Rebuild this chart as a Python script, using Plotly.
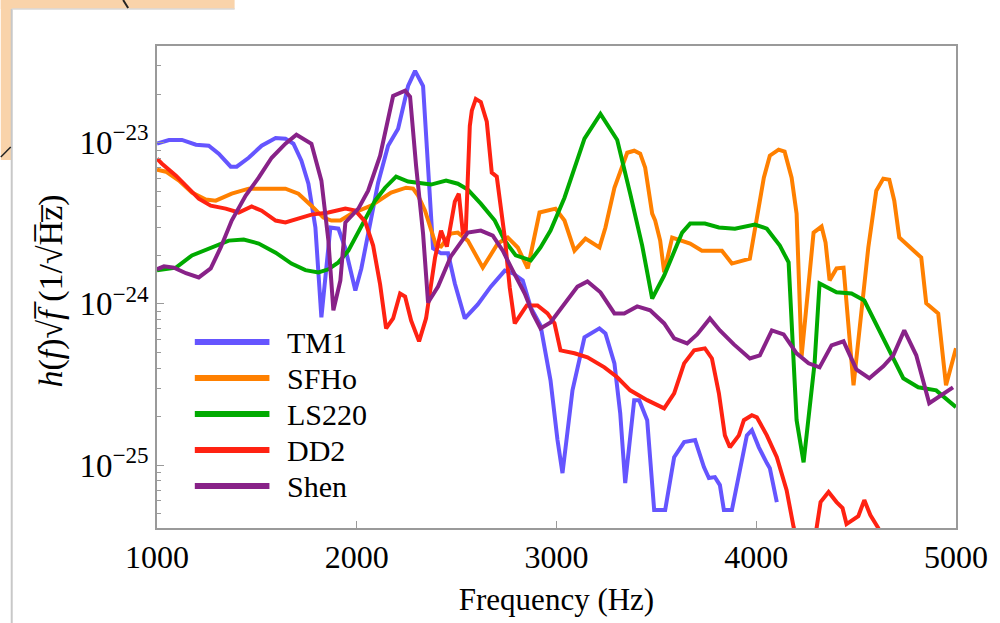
import plotly.graph_objects as go

# Strain spectra h(f)*sqrt(f) for five equations of state.
# Amplitudes are in units of 1e-24 (1/sqrt(Hz)).
SCALE = 1e-24

tm1_f = [1000, 1060, 1125, 1195, 1259, 1309, 1369, 1399, 1459, 1524, 1594, 1643, 1683, 1723,
         1758, 1793, 1823, 1868, 1908, 1943, 1993, 2023, 2072, 2107, 2157, 2207, 2257, 2292,
         2332, 2357, 2382, 2422, 2457, 2491, 2541, 2606, 2671, 2741, 2781, 2831, 2871, 2920,
         2970, 3005, 3030, 3080, 3140, 3215, 3245, 3290, 3319, 3344, 3389, 3414, 3454, 3489,
         3544, 3589, 3639, 3694, 3738, 3763, 3793, 3818, 3838, 3878, 3913, 3953, 3978, 4013,
         4053, 4068, 4103]
tm1_h = [9.86, 10.4, 10.4, 9.72, 9.58, 8.55, 7.1, 7.1, 8.07, 9.58, 10.7, 10.6, 9.86, 7.74,
         5.57, 2.98, 0.825, 2.98, 2.93, 2.21, 1.21, 1.66, 3.38, 5.65, 9.58, 12.2, 22.5, 27.9,
         22.5, 7.2, 2.21, 2.06, 2.06, 1.34, 0.813, 0.993, 1.28, 1.61, 1.55, 1.40, 0.951, 0.736,
         0.336, 0.143, 0.0892, 0.291, 0.620, 0.705, 0.657, 0.428, 0.210, 0.0774, 0.253, 0.253,
         0.190, 0.0526, 0.0526, 0.112, 0.139, 0.143, 0.0972, 0.0831, 0.0843, 0.0752, 0.0526,
         0.0526, 0.0892, 0.153, 0.165, 0.129, 0.103, 0.0958, 0.059]

sfho_f = [1000, 1045, 1110, 1175, 1244, 1294, 1374, 1459, 1643, 1708, 1773, 1833, 1873, 1918,
          1973, 2072, 2172, 2247, 2282, 2307, 2342, 2372, 2397, 2422, 2471, 2506, 2556, 2631,
          2706, 2756, 2806, 2856, 2915, 2995, 3040, 3090, 3145, 3215, 3245, 3290, 3354, 3389,
          3419, 3444, 3479, 3494, 3519, 3539, 3579, 3669, 3728, 3828, 3878, 3968, 4038, 4068,
          4112, 4142, 4177, 4202, 4227, 4287, 4327, 4347, 4367, 4402, 4437, 4487, 4561, 4601,
          4636, 4666, 4691, 4716, 4826, 4851, 4911, 4950, 5000]
sfho_h = [6.81, 6.61, 5.82, 4.90, 4.44, 4.37, 4.83, 5.19, 5.19, 4.83, 4.07, 3.43, 3.29, 3.29,
          3.63, 4.07, 4.90, 5.26, 5.19, 4.70, 3.79, 2.93, 2.30, 2.27, 2.73, 2.77, 2.47, 1.68,
          2.37, 2.58, 2.24, 1.66, 3.69, 3.90, 3.29, 2.14, 2.54, 2.24, 2.98, 5.26, 8.67, 8.92,
          8.55, 7.00, 3.63, 3.29, 2.47, 1.57, 2.58, 2.37, 2.14, 2.14, 1.78, 1.91, 6.07, 8.31,
          9.05, 8.80, 6.07, 3.63, 0.473, 2.77, 3.02, 2.40, 1.40, 1.66, 1.68, 0.313, 2.24, 5.04,
          5.99, 5.90, 4.37, 2.58, 1.94, 1.01, 0.873, 0.313, 0.530]

ls220_f = [1000, 1095, 1175, 1294, 1359, 1434, 1509, 1594, 1673, 1743, 1808, 1858, 1908, 1958,
           2023, 2092, 2142, 2197, 2257, 2322, 2372, 2447, 2506, 2556, 2621, 2691, 2741, 2796,
           2871, 2920, 2970, 3040, 3090, 3140, 3220, 3304, 3369, 3429, 3479, 3539, 3629, 3669,
           3743, 3813, 3893, 3993, 4053, 4118, 4162, 4187, 4202, 4237, 4262, 4292, 4317, 4402,
           4477, 4541, 4736, 4811, 4901, 5000]
ls220_h = [1.62, 1.68, 2.00, 2.30, 2.47, 2.51, 2.37, 2.08, 1.78, 1.62, 1.57, 1.64, 1.81, 2.14,
           3.02, 4.37, 5.26, 6.16, 5.74, 5.57, 5.50, 5.82, 5.57, 5.12, 4.19, 3.29, 2.47, 2.00,
           1.86, 2.24, 2.85, 4.56, 7.00, 10.6, 15.1, 10.4, 4.83, 2.30, 1.08, 1.50, 2.77, 3.15,
           3.15, 2.98, 2.93, 3.11, 2.93, 2.30, 1.81, 0.494, 0.190, 0.104, 0.190, 0.428, 1.34, 1.18,
           1.16, 1.05, 0.346, 0.304, 0.291, 0.229]

dd2_f = [1000, 1025, 1095, 1160, 1209, 1269, 1344, 1409, 1474, 1524, 1594, 1643, 1708, 1773,
         1858, 1943, 1993, 2042, 2082, 2117, 2147, 2182, 2217, 2242, 2272, 2312, 2347, 2372,
         2392, 2422, 2451, 2491, 2511, 2531, 2546, 2566, 2576, 2596, 2621, 2651, 2676, 2701,
         2741, 2766, 2791, 2851, 2905, 2955, 2990, 3020, 3090, 3155, 3240, 3304, 3369, 3454,
         3539, 3589, 3639, 3689, 3743, 3778, 3813, 3843, 3868, 3913, 3938, 3978, 4003, 4053,
         4103, 4152, 4187, 4242, 4302, 4322, 4362, 4402, 4432, 4452, 4511, 4541, 4571, 4611,
         4676]
dd2_h = [7.96, 7.41, 6.25, 5.19, 4.50, 4.07, 3.90, 3.69, 4.02, 3.79, 3.29, 3.20, 3.38, 3.58,
         3.69, 3.90, 3.79, 3.24, 2.30, 1.32, 0.705, 0.813, 1.16, 1.11, 0.790, 0.586, 0.813, 1.36,
         1.94, 2.85, 2.27, 4.31, 4.83, 2.77, 2.85, 12.7, 15.8, 18.7, 17.9, 13.5, 6.52, 6.16,
         2.58, 1.26, 0.757, 0.979, 0.979, 0.873, 0.757, 0.515, 0.494, 0.466, 0.404, 0.351, 0.291,
         0.253, 0.225, 0.279, 0.428, 0.515, 0.530, 0.459, 0.279, 0.153, 0.129, 0.153, 0.190,
         0.204, 0.198, 0.153, 0.112, 0.0700, 0.0413, 0.024, 0.0407, 0.0590, 0.0681, 0.059,
         0.0541, 0.0431, 0.0483, 0.0607, 0.049, 0.0407, 0.024]

shen_f = [1000, 1035, 1085, 1145, 1209, 1269, 1319, 1374, 1444, 1509, 1574, 1643, 1698, 1773,
          1823, 1858, 1883, 1918, 1943, 2008, 2057, 2117, 2182, 2242, 2267, 2297, 2332, 2357,
          2407, 2471, 2556, 2621, 2681, 2731, 2781, 2841, 2881, 2920, 2970, 3040, 3105, 3155,
          3220, 3290, 3339, 3404, 3469, 3539, 3589, 3654, 3704, 3768, 3818, 3888, 3968, 4018,
          4078, 4137, 4202, 4262, 4317, 4377, 4437, 4501, 4566, 4636, 4686, 4741, 4801, 4866,
          4926, 4985]
shen_h = [1.64, 1.71, 1.68, 1.55, 1.46, 1.66, 2.24, 3.29, 4.70, 6.07, 8.07, 9.86, 11.2, 9.86,
          5.82, 2.47, 0.912, 1.40, 3.20, 3.90, 5.04, 8.31, 19.5, 21.0, 19.3, 7.20, 2.73, 1.02,
          1.28, 1.97, 2.77, 2.85, 2.65, 2.14, 1.61, 1.16, 0.873, 0.705, 0.768, 1.00, 1.28, 1.38,
          1.18, 0.873, 0.873, 0.965, 0.912, 0.757, 0.611, 0.569, 0.647, 0.813, 0.685, 0.561,
          0.459, 0.480, 0.685, 0.647, 0.494, 0.428, 0.404, 0.553, 0.586, 0.393, 0.346, 0.410,
          0.480, 0.685, 0.480, 0.242, 0.271, 0.304]

series_names = ["TM1", "SFHo", "LS220", "DD2", "Shen"]
series_colors = ["#6555ff", "#ff8000", "#00aa00", "#ff2212", "#882288"]
series_data = [(tm1_f, tm1_h), (sfho_f, sfho_h), (ls220_f, ls220_h),
               (dd2_f, dd2_h), (shen_f, shen_h)]

x_ticks = [1000, 2000, 3000, 4000, 5000]
y_ticks = [1e-25, 1e-24, 1e-23]
y_ticktext = ["10<sup>\u221225</sup>", "10<sup>\u221224</sup>", "10<sup>\u221223</sup>"]

SERIF = "Liberation Serif"
FRAME = "#9a9a9a"

W, H = 1000, 623
ML, MR, MT, MB = 157, 40, 46, 95
PW, PH = W - ML - MR, H - MT - MB


def px(x):
    return (x - ML) / PW


def py(y):
    return (H - MB - y) / PH


fig = go.Figure()
for name, color, (f, h) in zip(series_names, series_colors, series_data):
    fig.add_trace(go.Scatter(
        x=f, y=[v * SCALE for v in h], mode="lines", name=name,
        line=dict(color=color, width=4), showlegend=False,
    ))

minor_vals = [k * 10.0 ** e for e in (-26, -25, -24, -23) for k in range(2, 10)]

shapes = [
    # slide background peeking out at the top-left
    dict(type="rect", xref="paper", yref="paper", x0=px(0), x1=px(235), y0=py(9), y1=py(0),
         fillcolor="#f9d3aa", line=dict(width=0), layer="below"),
    dict(type="rect", xref="paper", yref="paper", x0=px(0), x1=px(11), y0=py(160), y1=py(0),
         fillcolor="#f9d3aa", line=dict(width=0), layer="below"),
    # panel edges
    dict(type="line", xref="paper", yref="paper", x0=px(11), x1=px(11), y0=py(623), y1=py(9),
         line=dict(color="#c8c8c8", width=2), layer="below"),
    dict(type="line", xref="paper", yref="paper", x0=px(11), x1=px(235), y0=py(9), y1=py(9),
         line=dict(color="#d8d8d8", width=1.5), layer="below"),
    # stray strokes of the slide artwork
    dict(type="line", xref="paper", yref="paper", x0=px(0), x1=px(10), y0=py(157), y1=py(147),
         line=dict(color="#222222", width=1.5), layer="below"),
    dict(type="line", xref="paper", yref="paper", x0=px(123), x1=px(128), y0=py(0), y1=py(8),
         line=dict(color="#222222", width=2), layer="below"),
]

# hand-drawn legend: long line samples with serif labels
annotations = []
legend_top = 342
legend_gap = 36
for i, (name, color) in enumerate(zip(series_names, series_colors)):
    yy = legend_top + i * legend_gap
    shapes.append(dict(type="line", xref="paper", yref="paper",
                       x0=px(195), x1=px(270), y0=py(yy), y1=py(yy),
                       line=dict(color=color, width=6)))
    annotations.append(dict(xref="paper", yref="paper", x=px(286), y=py(yy),
                            text=name, showarrow=False, xanchor="left", yanchor="middle",
                            textangle=0,
                            font=dict(family="Times New Roman", size=30, color="black")))

annotations.append(dict(
    xref="paper", yref="paper", x=px(50), y=py(291), textangle=-90,
    text="<i>h</i>(<i>f</i>)\u221a<i>f\u0305</i> (1/\u221aH\u0305z\u0305)",
    showarrow=False, xanchor="center", yanchor="middle",
    font=dict(family=SERIF, size=34, color="black")))

fig.update_layout(
    width=W, height=H,
    margin=dict(l=ML, r=MR, t=MT, b=MB),
    paper_bgcolor="white", plot_bgcolor="white",
    font=dict(family=SERIF, size=30, color="black"),
    showlegend=False,
    shapes=shapes, annotations=annotations,
    xaxis=dict(
        range=[1000, 5000], tickvals=x_ticks, ticks="inside", ticklen=7,
        tickcolor=FRAME, tickwidth=1.2, showline=True, mirror=True,
        linecolor=FRAME, linewidth=1.5, showgrid=False, zeroline=False,
        tickfont=dict(family=SERIF, size=32, color="black"),
        title=dict(text="Frequency (Hz)", standoff=14,
                   font=dict(family=SERIF, size=31, color="black")),
    ),
    yaxis=dict(
        type="log", range=[-25.39, -22.40], tickvals=y_ticks, ticktext=y_ticktext,
        ticks="inside", ticklen=7, tickcolor=FRAME, tickwidth=1.2,
        showline=True, mirror=True, linecolor=FRAME, linewidth=1.5,
        showgrid=False, zeroline=False,
        tickfont=dict(family=SERIF, size=33, color="black"),
        minor=dict(tickvals=minor_vals, ticks="inside", ticklen=4,
                   tickcolor=FRAME, tickwidth=1, showgrid=False),
    ),
)

fig.write_html("out.html")
